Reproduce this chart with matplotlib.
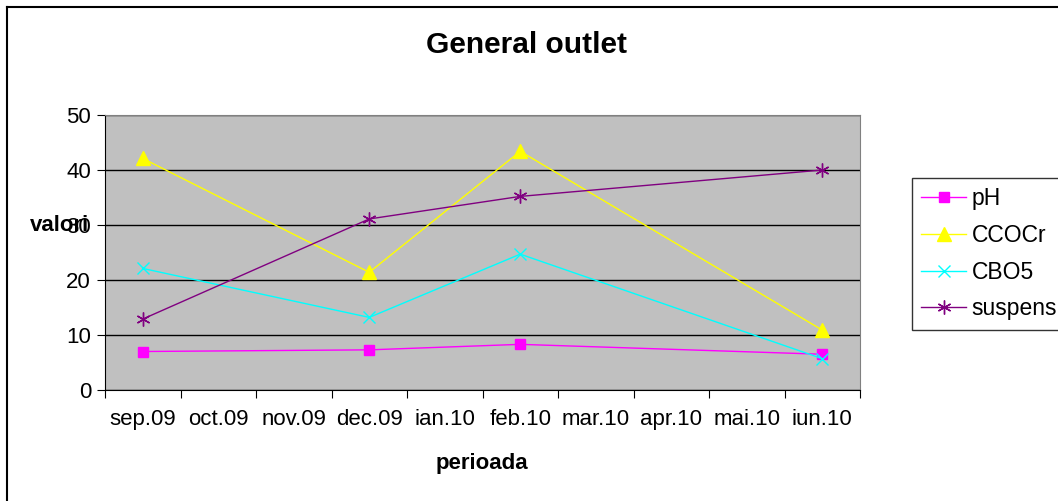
import matplotlib
matplotlib.use("Agg")
import matplotlib.pyplot as plt
from matplotlib.lines import Line2D

plt.rcParams['font.family'] = ['Liberation Sans', 'DejaVu Sans']

categories = ["sep.09", "oct.09", "nov.09", "dec.09", "ian.10",
              "feb.10", "mar.10", "apr.10", "mai.10", "iun.10"]
sample_months = ["sep.09", "dec.09", "feb.10", "iun.10"]
ph = [7.0, 7.3, 8.3, 6.5]
ccocr = [42.1, 21.4, 43.4, 10.9]
cbo5 = [22.1, 13.2, 24.7, 5.7]
suspensii = [12.9, 31.1, 35.2, 40.0]
yticks = [0, 10, 20, 30, 40, 50]

W, H = 1058, 501
fig = plt.figure(figsize=(W / 100, H / 100), dpi=100)
ax = fig.add_axes([105 / W, 1 - 390 / H, 755 / W, 275 / H])
ax.set_facecolor('#C0C0C0')

xs = [categories.index(m) for m in sample_months]
ax.plot(xs, ph, color='#FF00FF', lw=1, marker='s', ms=7, mfc='#FF00FF', mec='#FF00FF', label='pH', zorder=3)
ax.plot(xs, ccocr, color='#FFFF00', lw=1, marker='^', ms=10, mfc='#FFFF00', mec='#FFFF00', label='CCOCr', zorder=3)
ax.plot(xs, cbo5, color='#00FFFF', lw=1, marker='x', ms=9, mew=1, mec='#00FFFF', label='CBO5', zorder=3)
ax.plot(xs, suspensii, color='#800080', lw=1, marker=(6, 2, 0), ms=10, mew=1, mec='#800080', label='suspensii', zorder=3)

ax.set_xlim(-0.5, len(categories) - 0.5)
ax.set_ylim(0, 50)
ax.set_yticks(yticks)
ax.set_yticklabels([str(v) for v in yticks], fontsize=16)
ax.yaxis.grid(True, color='black', lw=1)
ax.set_axisbelow(True)

ax.set_xticks([i - 0.5 for i in range(len(categories) + 1)])
ax.set_xticklabels([])
ax.set_xticks(range(len(categories)), minor=True)
ax.set_xticklabels(categories, minor=True, fontsize=16)
ax.tick_params(axis='x', which='major', length=6, direction='out', color='black')
ax.tick_params(axis='x', which='minor', length=0, pad=14)
ax.tick_params(axis='y', length=6, direction='out', pad=4, color='black')

for s in ['top', 'right']:
    ax.spines[s].set_color('#808080')
for s in ['left', 'bottom']:
    ax.spines[s].set_color('black')

fig.text(527 / W, 1 - 45 / H, "General outlet", ha='center', va='center',
         fontsize=21.5, fontweight='bold')
fig.text(30 / W, 1 - 226 / H, "valori", ha='left', va='center',
         fontsize=16, fontweight='bold')
fig.text(482 / W, 1 - 463 / H, "perioada", ha='center', va='center',
         fontsize=16, fontweight='bold')

leg = ax.legend(loc='upper left', bbox_to_anchor=(912 / W, 1 - 178 / H),
                bbox_transform=fig.transFigure, fontsize=16.5, frameon=True,
                fancybox=False, edgecolor='black', borderpad=0.4,
                labelspacing=0.6, handlelength=1.95, handletextpad=0.25,
                borderaxespad=0)
leg.get_frame().set_linewidth(1)

fig.add_artist(Line2D([7 / W, 1], [1 - 7 / H, 1 - 7 / H], color='black', lw=1.5, transform=fig.transFigure))
fig.add_artist(Line2D([7 / W, 7 / W], [0, 1 - 7 / H], color='black', lw=1.5, transform=fig.transFigure))

fig.savefig('out.png', dpi=100)
